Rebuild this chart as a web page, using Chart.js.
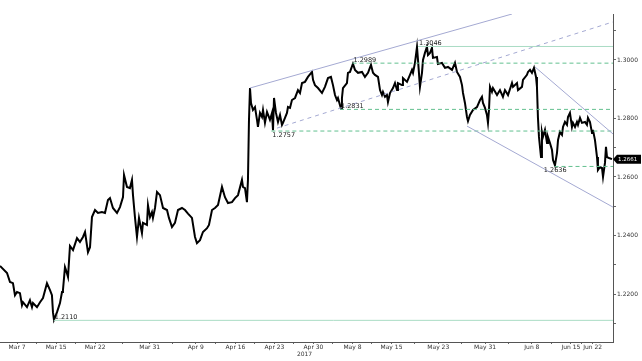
<!DOCTYPE html>
<html>
<head>
<meta charset="utf-8">
<script src="https://cdn.jsdelivr.net/npm/chart.js@4/dist/chart.umd.min.js"></script>
<style>
  html, body { margin: 0; padding: 0; background: #fff; }
</style>
</head>
<body>
<canvas id="fxChart" width="642" height="361"></canvas>
<script>
'use strict';

// time axis is in trading days counted from Mon Mar 6 2017
const tickDays = [2, 7, 12, 19, 24.9, 30, 35, 40, 45, 50, 56, 62, 68, 73, 75.8];
const tickLabels = ['Mar 7', 'Mar 15', 'Mar 22', 'Mar 31', 'Apr 9', 'Apr 16', 'Apr 23', 'Apr 30',
    'May 8', 'May 15', 'May 23', 'May 31', 'Jun 8', 'Jun 15', 'Jun 22'];
const priceTicks = [1.21, 1.22, 1.23, 1.24, 1.25, 1.26, 1.27, 1.28, 1.29, 1.30, 1.31];

const marDays = [-0.19, 0.71, 1.09, 1.47, 1.73, 1.99, 2.37, 2.63, 2.76, 3.27, 3.65, 3.91, 4.04, 4.55, 4.94,
    5.32, 5.83, 6.22, 6.47, 6.60, 6.73, 7.12, 7.50, 7.76, 7.88, 8.14, 8.27, 8.53, 8.78, 9.17, 9.68, 10.06,
    10.45, 10.71, 11.09, 11.35, 11.60, 11.99, 12.37, 12.88, 13.27, 13.65, 13.91, 14.29, 14.81, 15.19, 15.58,
    15.71, 16.09, 16.47, 16.73, 16.86, 17.12, 17.37, 17.63, 18.01, 18.14, 18.65, 18.78, 19.04, 19.29, 19.42,
    19.68, 19.94];
const marPrices = [1.2296, 1.2272, 1.2241, 1.2237, 1.2196, 1.2207, 1.2203, 1.2162, 1.2172, 1.2155, 1.2179,
    1.2155, 1.2169, 1.2155, 1.2172, 1.2186, 1.2237, 1.2213, 1.2196, 1.2138, 1.2112, 1.2138, 1.2169, 1.2207,
    1.2213, 1.2292, 1.2282, 1.2258, 1.2364, 1.2350, 1.2391, 1.2378, 1.2395, 1.2412, 1.2343, 1.2360, 1.2463,
    1.2487, 1.2477, 1.2480, 1.2477, 1.2521, 1.2528, 1.2494, 1.2477, 1.2497, 1.2531, 1.2607, 1.2566, 1.2562,
    1.2590, 1.2538, 1.2460, 1.2395, 1.2460, 1.2408, 1.2443, 1.2436, 1.2504, 1.2463, 1.2480, 1.2460, 1.2494,
    1.2549];

const aprDays = [20.32, 20.71, 21.22, 21.47, 21.86, 22.24, 22.63, 23.14, 23.53, 23.91, 24.42, 24.81, 25.06,
    25.45, 25.83, 26.35, 26.60, 26.99, 27.37, 27.76, 28.27, 28.65, 29.04, 29.55, 29.94, 30.32, 30.83, 30.96,
    31.22, 31.47, 31.60, 31.73, 31.86, 31.99, 32.24, 32.50, 32.76, 32.88, 33.14, 33.40, 33.53, 33.78, 34.04,
    34.42, 34.68, 34.81, 34.94, 35.19, 35.45, 35.71, 35.96, 36.09, 36.60, 36.73, 36.99, 37.24, 37.63, 38.01,
    38.27, 38.53, 38.91, 39.29, 39.81, 39.94, 40.19, 40.58];
const aprPrices = [1.2538, 1.2494, 1.2487, 1.2460, 1.2429, 1.2443, 1.2487, 1.2494, 1.2487, 1.2475, 1.2460,
    1.2395, 1.2374, 1.2384, 1.2412, 1.2425, 1.2436, 1.2487, 1.2494, 1.2504, 1.2566, 1.2531, 1.2511, 1.2514,
    1.2528, 1.2538, 1.2590, 1.2566, 1.2562, 1.2514, 1.2590, 1.2795, 1.2904, 1.2853, 1.2829, 1.2839, 1.2795,
    1.2771, 1.2819, 1.2805, 1.2829, 1.2785, 1.2822, 1.2795, 1.2819, 1.2760, 1.2870, 1.2819, 1.2788, 1.2812,
    1.2778, 1.2785, 1.2819, 1.2839, 1.2836, 1.2863, 1.2870, 1.2897, 1.2887, 1.2921, 1.2925, 1.2942, 1.2959,
    1.2932, 1.2914, 1.2904];

const mayDays = [41.09, 41.47, 41.86, 42.24, 42.50, 42.76, 43.01, 43.14, 43.53, 43.65, 43.78, 44.29, 44.42,
    44.68, 45.06, 45.32, 45.71, 46.22, 46.60, 46.99, 47.37, 47.63, 47.88, 48.27, 48.53, 48.78, 48.91, 49.17,
    49.42, 49.55, 49.81, 50.19, 50.45, 50.71, 50.83, 51.35, 51.47, 51.99, 52.37, 52.63, 52.76, 53.01, 53.27,
    53.40, 53.65, 53.91, 54.04, 54.29, 54.55, 54.68, 54.94, 55.19, 55.32, 55.83, 55.96, 56.47, 56.86, 57.24,
    57.76, 58.14, 58.40, 58.78, 59.04, 59.17, 59.42, 59.68, 59.81, 60.06, 60.45, 60.96, 61.35, 61.60, 61.73,
    61.99, 62.24, 62.37, 62.50, 62.63, 62.88];
const mayPrices = [1.2887, 1.2908, 1.2938, 1.2942, 1.2914, 1.2880, 1.2863, 1.2870, 1.2833, 1.2870, 1.2904,
    1.2921, 1.2956, 1.2959, 1.2987, 1.2966, 1.2956, 1.2959, 1.2942, 1.2956, 1.2983, 1.2956, 1.2949, 1.2942,
    1.2897, 1.2880, 1.2891, 1.2874, 1.2880, 1.2856, 1.2887, 1.2904, 1.2921, 1.2897, 1.2921, 1.2914, 1.2938,
    1.2925, 1.2949, 1.2966, 1.2956, 1.2990, 1.3044, 1.3000, 1.2908, 1.2956, 1.3000, 1.3024, 1.3045, 1.3017,
    1.3024, 1.3041, 1.3007, 1.3010, 1.2986, 1.2990, 1.2973, 1.2976, 1.2966, 1.2990, 1.2959, 1.2942, 1.2914,
    1.2887, 1.2853, 1.2805, 1.2791, 1.2812, 1.2829, 1.2839, 1.2863, 1.2874, 1.2853, 1.2836, 1.2812, 1.2785,
    1.2829, 1.2908, 1.2891];

const junDays = [63.01, 63.53, 63.91, 64.29, 64.55, 64.94, 65.45, 65.58, 66.09, 66.22, 66.73, 66.86, 67.37,
    67.50, 67.76, 68.01, 68.27, 68.53, 68.65, 68.78, 68.91, 69.17, 69.29, 69.42, 69.68, 69.94, 70.06, 70.32,
    70.58, 70.71, 70.96, 71.22, 71.35, 71.60, 71.86, 71.99, 72.24, 72.50, 72.63, 72.88, 73.14, 73.27, 73.53,
    73.78, 73.91, 74.17, 74.42, 74.81, 75.06, 75.19, 75.45, 75.71, 75.83, 76.09, 76.35, 76.47, 76.73, 76.99,
    77.12, 77.37, 77.50, 77.63, 77.88, 78.27];
const junPrices = [1.2904, 1.2880, 1.2897, 1.2874, 1.2897, 1.2880, 1.2921, 1.2908, 1.2921, 1.2897, 1.2908,
    1.2932, 1.2949, 1.2959, 1.2966, 1.2956, 1.2973, 1.2942, 1.2908, 1.2802, 1.2737, 1.2668, 1.2754, 1.2737,
    1.2761, 1.2716, 1.2737, 1.2716, 1.2692, 1.2658, 1.2640, 1.2682, 1.2726, 1.2754, 1.2744, 1.2771, 1.2788,
    1.2778, 1.2805, 1.2819, 1.2771, 1.2785, 1.2771, 1.2788, 1.2778, 1.2802, 1.2785, 1.2788, 1.2778, 1.2802,
    1.2788, 1.2750, 1.2761, 1.2726, 1.2668, 1.2624, 1.2634, 1.2631, 1.2600, 1.2648, 1.2703, 1.2668, 1.2665,
    1.2661];

const lastPrice = 1.2661;

// marked levels and the day each one starts from
const levelValues = [1.3046, 1.2989, 1.2831, 1.2757, 1.2636, 1.2110];
const levelStart = [53.4, 45.0, 43.4, 34.6, 70.9, 6.7];

// trend lines: [day0, price0, day1, price1]
const upperChannel = [31.86, 1.2904, 65.45, 1.3157];
const midChannel = [35.32, 1.2767, 78.40, 1.3130];
const downLower = [59.68, 1.2774, 78.40, 1.2497];
const downUpper = [68.40, 1.2976, 78.40, 1.2747];

const xMin = -0.19, xMax = 78.40;
const yMin = 1.2036, yMax = 1.3157;

function toPoints(days, prices) {
    return days.map((d, i) => ({x: d, y: prices[i]}));
}

const closes = toPoints(marDays.concat(aprDays, mayDays, junDays),
    marPrices.concat(aprPrices, mayPrices, junPrices));

function lineSet(pts, color, dash, width) {
    return {
        data: pts,
        borderColor: color,
        borderWidth: width || 1,
        borderDash: dash || [],
        pointRadius: 0,
        tension: 0,
        fill: false
    };
}

function trend(t) {
    return [{x: t[0], y: t[1]}, {x: t[2], y: t[3]}];
}

const lavender = '#a4a9d2';
const greenDash = '#62c08f';
const greenSolid = '#a9dcc4';

const datasets = [];
datasets.push(lineSet(trend(upperChannel), lavender));
datasets.push(lineSet(trend(midChannel), lavender, [4, 4]));
datasets.push(lineSet(trend(downLower), lavender));
datasets.push(lineSet(trend(downUpper), lavender));
levelValues.forEach((v, i) => {
    const solid = (v === 1.3046 || v === 1.2110);
    datasets.push(lineSet([{x: levelStart[i], y: v}, {x: xMax, y: v}],
        solid ? greenSolid : greenDash, solid ? [] : [4, 3]));
});
datasets.push(lineSet(closes, '#000', [], 2));

// minor ticks between labelled ones
const xTickValues = [];
tickDays.forEach((d, i) => {
    xTickValues.push(d);
    if (i < tickDays.length - 1) xTickValues.push((d + tickDays[i + 1]) / 2);
});

const notesPlugin = {
    id: 'notes',
    afterDatasetsDraw(chart) {
        const {ctx, chartArea, scales} = chart;
        const x = scales.x, y = scales.y;
        ctx.save();
        ctx.font = '6.5px "DejaVu Sans"';
        ctx.fillStyle = '#222';
        ctx.textAlign = 'left';
        levelValues.forEach((v, i) => {
            const below = (v === 1.2757 || v === 1.2636);
            ctx.textBaseline = below ? 'top' : 'bottom';
            let d = levelStart[i];
            if (v === 1.2636) d = 69.4;
            ctx.fillText(v.toFixed(4), x.getPixelForValue(d) + 1, y.getPixelForValue(v) + (below ? 1 : 0));
        });

        // year under the axis
        ctx.textAlign = 'center';
        ctx.textBaseline = 'top';
        ctx.fillStyle = '#333';
        ctx.font = '6px "DejaVu Sans"';
        ctx.fillText('2017', x.getPixelForValue(38.85), chartArea.bottom + 9);

        // last price tag
        const py = y.getPixelForValue(lastPrice);
        const left = chartArea.right + 1;
        ctx.fillStyle = '#000';
        ctx.beginPath();
        ctx.moveTo(left - 1, py);
        ctx.lineTo(left + 3, py - 4.5);
        ctx.lineTo(left + 27, py - 4.5);
        ctx.lineTo(left + 27, py + 4.5);
        ctx.lineTo(left + 3, py + 4.5);
        ctx.closePath();
        ctx.fill();
        ctx.fillStyle = '#fff';
        ctx.textAlign = 'left';
        ctx.textBaseline = 'middle';
        ctx.font = '5.5px "DejaVu Sans"';
        ctx.fillText(lastPrice.toFixed(4), left + 4, py + 0.5);
        ctx.restore();
    }
};

new Chart('fxChart', {
    type: 'line',
    data: {datasets: datasets},
    plugins: [notesPlugin],
    options: {
        responsive: false,
        animation: false,
        events: [],
        layout: {padding: {top: 14, left: 0, right: 0, bottom: 0}},
        plugins: {legend: {display: false}, tooltip: {enabled: false}},
        scales: {
            x: {
                type: 'linear',
                min: xMin,
                max: xMax,
                afterBuildTicks: (scale) => { scale.ticks = xTickValues.map(v => ({value: v})); },
                afterFit: (scale) => { scale.height = 19; },
                ticks: {
                    autoSkip: false,
                    maxRotation: 0,
                    padding: 0,
                    color: '#333',
                    font: {family: 'DejaVu Sans', size: 6},
                    callback: (value) => {
                        const i = tickDays.indexOf(value);
                        return i >= 0 ? tickLabels[i] : '';
                    }
                },
                grid: {drawOnChartArea: false, tickLength: 2, color: '#666'},
                border: {color: '#555'}
            },
            y: {
                position: 'right',
                min: yMin,
                max: yMax,
                afterBuildTicks: (scale) => { scale.ticks = priceTicks.map(v => ({value: v})); },
                afterFit: (scale) => { scale.width = 29; },
                ticks: {
                    padding: 1,
                    color: '#333',
                    font: {family: 'DejaVu Sans', size: 6},
                    callback: (value) => (Math.round(value * 100) % 2 === 0 ? value.toFixed(4) : '')
                },
                grid: {drawOnChartArea: false, tickLength: 3, color: '#666'},
                border: {color: '#555'}
            }
        }
    }
});
</script>
</body>
</html>
